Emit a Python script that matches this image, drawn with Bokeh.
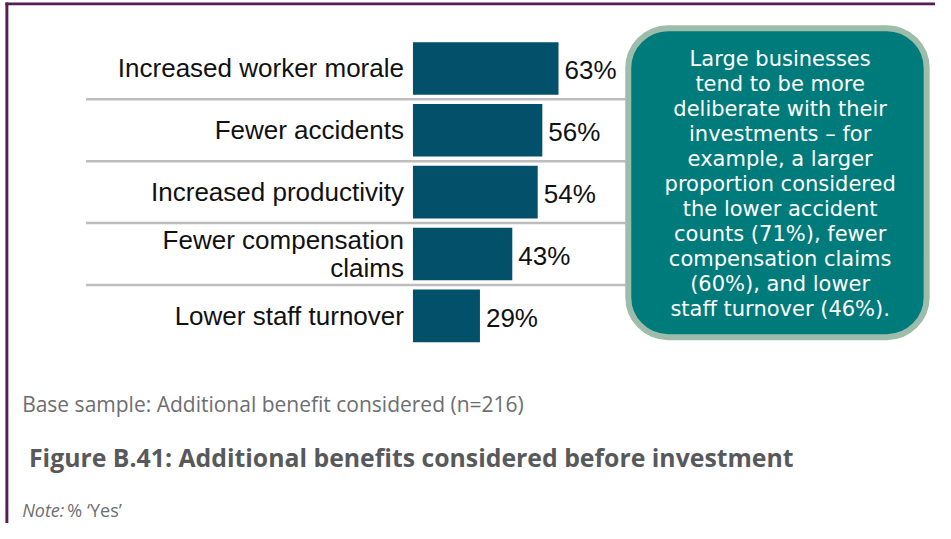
from bokeh.plotting import figure
from bokeh.models import Range1d, BoxAnnotation, Label, ColumnDataSource
from bokeh.core.properties import value
from bokeh.embed import file_html
from bokeh.resources import INLINE

# ---------------- data ----------------
categories = [
    "Increased worker morale",
    "Fewer accidents",
    "Increased productivity",
    "Fewer compensation\nclaims",
    "Lower staff turnover",
]
values = [63, 56, 54, 43, 29]
value_labels = [f"{v}%" for v in values]

callout_lines = [
    "Large businesses",
    "tend to be more",
    "deliberate with their",
    "investments \u2013 for",
    "example, a larger",
    "proportion considered",
    "the lower accident",
    "counts (71%), fewer",
    "compensation claims",
    "(60%), and lower",
    "staff turnover (46%).",
]
base_note = "Base sample: Additional benefit considered (n=216)"
figure_title = "Figure B.41: Additional benefits considered before investment"
note_label = "Note:"
note_text = "% \u2018Yes\u2019"

# ---------------- layout helpers (reference pixel -> data) ----------------
W, H = 935, 523
REF_W, REF_H = 951, 539
ORIGIN = 419.5     # reference x of bar origin
K = 2.35           # reference pixels per percent
ROW0 = 70.0        # reference y of first row centre
ROW = 63.75        # reference pixels per row


def rx(x):
    return (x - ORIGIN) / K


def ry(y):
    return (y - ROW0) / ROW


p = figure(
    width=W, height=H,
    x_range=Range1d(rx(0), rx(REF_W)),
    y_range=Range1d(ry(REF_H), ry(0)),
    output_backend="svg", toolbar_location=None,
    x_axis_location=None, y_axis_location=None,
    min_border=0, outline_line_color=None,
    background_fill_color="white", border_fill_color="white",
)
p.grid.visible = False

src = ColumnDataSource(dict(
    y=list(range(len(categories))),
    v=values,
    cat=categories,
    lab=value_labels,
))

# separator lines
sep_y = [i + 0.5 for i in range(len(categories) - 1)]
p.segment(x0=rx(87), x1=rx(636), y0=sep_y, y1=sep_y,
          line_color="#bdbdbd", line_width=2.5)

# bars
p.hbar(y="y", left=0, right="v", height=0.85, source=src,
       fill_color="#03506a", line_color=None)

# category labels
p.text(x=0, y="y", text="cat", source=src, x_offset=-9,
       text_align="right", text_baseline="middle",
       text_font=value("Liberation Sans"), text_font_size="26px",
       text_color="#111111", text_line_height=0.93)

# value labels
p.text(x="v", y="y", text="lab", source=src, x_offset=6, y_offset=2,
       text_align="left", text_baseline="middle",
       text_font=value("Liberation Sans"), text_font_size="26px",
       text_color="#111111")

# page border (top and left)
p.add_layout(BoxAnnotation(left=rx(5), right=rx(REF_W), top=ry(2), bottom=ry(5),
                           fill_color="#561c54", fill_alpha=1, line_color=None))
p.add_layout(BoxAnnotation(left=rx(5), right=rx(8), top=ry(2), bottom=ry(REF_H),
                           fill_color="#561c54", fill_alpha=1, line_color=None))

# callout box
p.add_layout(BoxAnnotation(left=rx(638.5), right=rx(942), top=ry(28.5), bottom=ry(347),
                           fill_color="#007b7b", fill_alpha=1,
                           line_color="#9dbcaa", line_width=6, line_alpha=1,
                           border_radius=40))

y_start, y_step = 60.5, 25.7
for i, line in enumerate(callout_lines):
    p.add_layout(Label(x=rx(793), y=ry(y_start + i * y_step), text=line,
                       text_align="center", text_baseline="middle",
                       text_color="white", text_font="DejaVu Sans",
                       text_font_size="21px"))

# footer texts
p.add_layout(Label(x=rx(22), y=ry(416), text=base_note,
                   text_align="left", text_baseline="middle",
                   text_color="#6d6e71", text_font="Open Sans",
                   text_font_size="21px"))
p.add_layout(Label(x=rx(29), y=ry(470.5), text=figure_title,
                   text_align="left", text_baseline="middle",
                   text_color="#58595b", text_font="Open Sans",
                   text_font_style="bold", text_font_size="24.8px"))
p.add_layout(Label(x=rx(22), y=ry(525), text=note_label,
                   text_align="left", text_baseline="middle",
                   text_color="#6d6e71", text_font="Open Sans",
                   text_font_style="italic", text_font_size="18px"))
p.add_layout(Label(x=rx(68), y=ry(525), text=note_text,
                   text_align="left", text_baseline="middle",
                   text_color="#6d6e71", text_font="Open Sans",
                   text_font_size="18px"))

open("out.html", "w").write(file_html(p, INLINE))
